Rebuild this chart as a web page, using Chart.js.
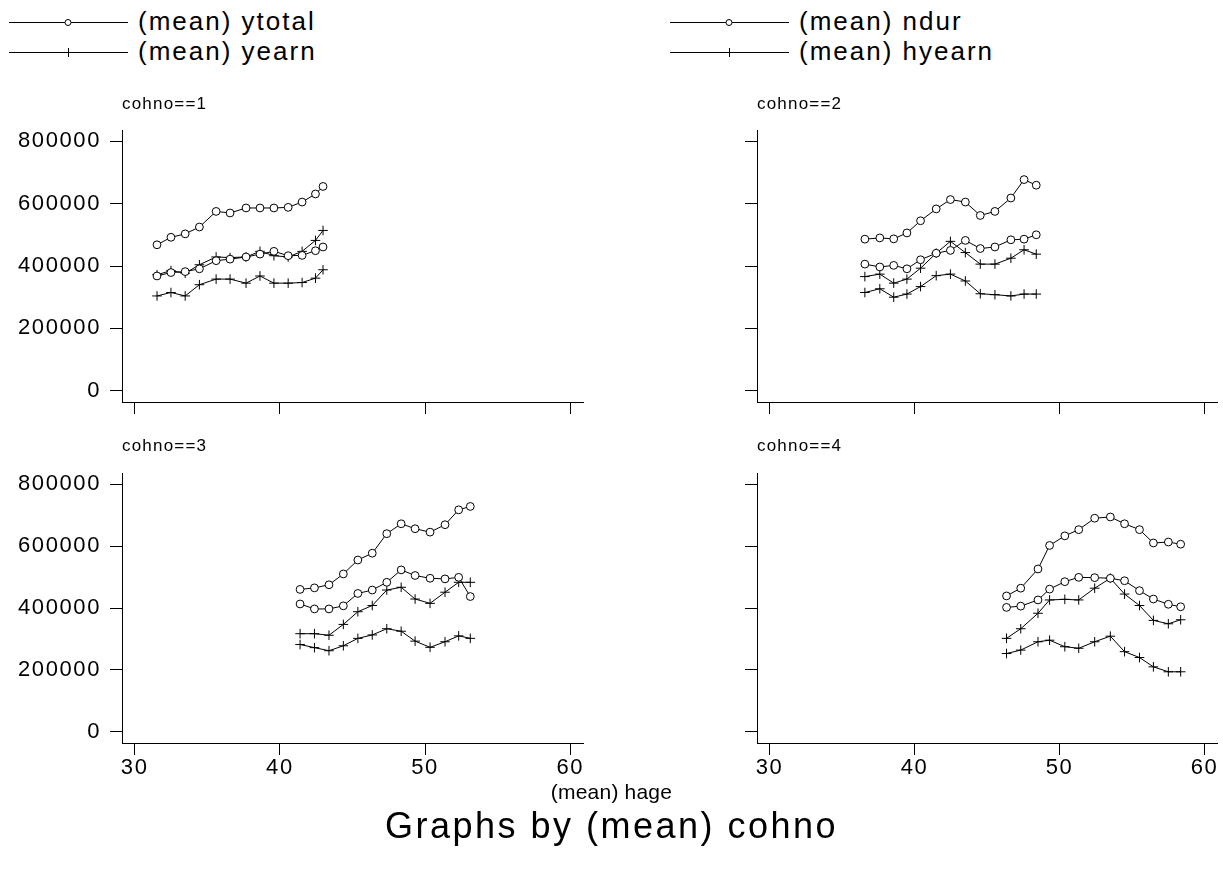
<!DOCTYPE html>
<html>
<head>
<meta charset="utf-8">
<script src="https://cdn.jsdelivr.net/npm/chart.js@4.4.1/dist/chart.umd.min.js"></script>
<style>
body { margin:0; background:#fff; width:1223px; height:882px; overflow:hidden; position:relative; font-family:"Liberation Sans", Arial, sans-serif; color:#000; }
canvas { position:absolute; }
.leg { position:absolute; font-size:26px; letter-spacing:2px; line-height:30px; white-space:nowrap; }
.foot { position:absolute; left:0; width:1223px; text-align:center; white-space:nowrap; }
</style>
</head>
<body>
<svg width="1223" height="70" style="position:absolute;left:0;top:0">
  <g stroke="#000" stroke-width="1" fill="#fff">
    <line x1="9" y1="22.5" x2="128" y2="22.5"/>
    <circle cx="68" cy="22.5" r="3"/>
    <line x1="9" y1="52.5" x2="128" y2="52.5"/>
    <line x1="68.5" y1="48" x2="68.5" y2="57"/>
    <line x1="670" y1="22.5" x2="789" y2="22.5"/>
    <circle cx="729" cy="22.5" r="3"/>
    <line x1="670" y1="52.5" x2="789" y2="52.5"/>
    <line x1="729.5" y1="48" x2="729.5" y2="57"/>
  </g>
</svg>
<div class="leg" style="left:138px;top:6px">(mean) ytotal</div>
<div class="leg" style="left:138px;top:36px">(mean) yearn</div>
<div class="leg" style="left:799px;top:6px">(mean) ndur</div>
<div class="leg" style="left:799px;top:36px">(mean) hyearn</div>

<canvas id="c1" width="600" height="340" style="left:0;top:90px"></canvas>
<canvas id="c2" width="588" height="340" style="left:635px;top:90px"></canvas>
<canvas id="c3" width="600" height="350" style="left:0;top:433px"></canvas>
<canvas id="c4" width="588" height="350" style="left:635px;top:433px"></canvas>

<div class="foot" style="top:780px;font-size:21px;line-height:24px;letter-spacing:0.2px">(mean) hage</div>
<div class="foot" style="top:806px;font-size:36px;line-height:40px;letter-spacing:2.5px">Graphs by (mean) cohno</div>

<script>
// valores: edad media por año, una lista por cohorte
const ages1 = [31.54, 32.50, 33.48, 34.46, 35.61, 36.57, 37.67, 38.63, 39.59, 40.57, 41.53, 42.45, 42.97];
const ytotal1 = [468000, 492000, 503000, 525000, 575000, 570000, 586000, 586000, 586000, 588000, 605000, 631000, 655000];
const ndur1 = [368000, 379000, 382000, 391000, 417000, 422000, 429000, 438000, 447000, 433000, 434000, 449000, 461000];
const yearn1 = [372000, 385000, 377000, 404000, 429000, 427000, 429000, 447000, 433000, 429000, 447000, 482000, 514000];
const hyearn1 = [304000, 315000, 304000, 340000, 358000, 358000, 345000, 368000, 345000, 345000, 347000, 361000, 388000];

const ages2 = [36.57, 37.60, 38.56, 39.47, 40.41, 41.49, 42.47, 43.50, 44.53, 45.54, 46.64, 47.55, 48.39];
const ytotal2 = [486000, 490000, 487000, 506000, 545000, 583000, 613000, 605000, 562000, 575000, 618000, 677000, 659000];
const ndur2 = [406000, 397000, 402000, 391000, 420000, 441000, 450000, 482000, 456000, 461000, 484000, 486000, 500000];
const yearn2 = [366000, 374000, 345000, 358000, 393000, 441000, 479000, 443000, 406000, 406000, 425000, 452000, 438000];
const hyearn2 = [315000, 327000, 300000, 310000, 334000, 369000, 374000, 352000, 311000, 308000, 304000, 310000, 310000];

const ages3 = [41.39, 42.38, 43.38, 44.37, 45.37, 46.36, 47.36, 48.35, 49.31, 50.34, 51.37, 52.31, 53.11];
const ytotal3 = [460000, 465000, 475000, 510000, 555000, 577000, 640000, 672000, 656000, 645000, 669000, 717000, 728000];
const ndur3 = [413000, 397000, 397000, 407000, 447000, 458000, 483000, 523000, 505000, 496000, 494000, 499000, 437000];
const yearn3 = [317000, 317000, 312000, 347000, 388000, 408000, 458000, 467000, 429000, 415000, 451000, 483000, 483000];
const hyearn3 = [282000, 272000, 262000, 278000, 302000, 313000, 333000, 325000, 293000, 273000, 291000, 310000, 302000];

const ages4 = [46.34, 47.32, 48.51, 49.31, 50.36, 51.32, 52.42, 53.50, 54.48, 55.51, 56.47, 57.50, 58.35];
const ytotal4 = [439000, 464000, 526000, 602000, 633000, 653000, 690000, 694000, 672000, 653000, 610000, 613000, 606000];
const ndur4 = [402000, 406000, 426000, 461000, 485000, 499000, 498000, 496000, 488000, 456000, 429000, 412000, 404000];
const yearn4 = [302000, 333000, 383000, 426000, 428000, 426000, 464000, 496000, 445000, 408000, 360000, 349000, 362000];
const hyearn4 = [253000, 264000, 291000, 296000, 275000, 270000, 291000, 309000, 259000, 240000, 210000, 194000, 194000];

const seriesNames = ['(mean) ytotal', '(mean) ndur', '(mean) yearn', '(mean) hyearn'];
const seriesMarkers = ['circle', 'circle', 'cross', 'cross'];
const xTicks = [30, 40, 50, 60];
const yTicks = [0, 200000, 400000, 600000, 800000];

const tickFont = { family: 'Liberation Sans', size: 22 };

// etiqueta "cohno==n" encima de cada panel y espaciado de letras
const panelLabel = {
    id: 'panelLabel',
    beforeDraw(chart) {
        chart.ctx.letterSpacing = '1.6px';
    },
    afterDraw(chart, args, opts) {
        const ctx = chart.ctx;
        ctx.save();
        ctx.letterSpacing = '1.2px';
        ctx.font = '17px "Liberation Sans"';
        ctx.fillStyle = '#000';
        ctx.textBaseline = 'middle';
        ctx.fillText(opts.text, chart.chartArea.left, opts.y);
        ctx.restore();
    }
};

const crearPanel = (id, titulo, ages, series, conX, conY, padRight, xHeight, labelY) => {
    const datasets = series.map((vals, k) => ({
        label: seriesNames[k],
        data: ages.map((a, i) => ({ x: a, y: vals[i] })),
        showLine: true,
        borderColor: '#000',
        borderWidth: 1,
        tension: 0,
        pointStyle: seriesMarkers[k],
        pointRadius: seriesMarkers[k] === 'circle' ? 3.9 : 4.8,
        pointBorderColor: '#000',
        pointBackgroundColor: '#fff',
        pointBorderWidth: 1
    }));

    new Chart(document.getElementById(id), {
        type: 'scatter',
        data: { datasets },
        plugins: [panelLabel],
        options: {
            responsive: false,
            animation: false,
            devicePixelRatio: 1,
            layout: { padding: { top: 40, right: padRight, left: 0, bottom: 0 } },
            plugins: {
                legend: { display: false },
                tooltip: { enabled: false },
                panelLabel: { text: titulo, y: labelY }
            },
            scales: {
                x: {
                    type: 'linear',
                    min: 29.13,
                    max: 60.87,
                    afterBuildTicks: (s) => { s.ticks = xTicks.map(v => ({ value: v })); },
                    afterFit: (s) => { s.height = xHeight; },
                    grid: { drawOnChartArea: false, drawTicks: true, tickLength: 12, color: '#000' },
                    border: { display: true, color: '#000', width: 1 },
                    ticks: { display: conX, font: tickFont, color: '#000', padding: 0, maxRotation: 0 }
                },
                y: {
                    type: 'linear',
                    min: -36000,
                    max: 836000,
                    afterBuildTicks: (s) => { s.ticks = yTicks.map(v => ({ value: v })); },
                    afterFit: (s) => { s.width = 122; },
                    grid: { drawOnChartArea: false, drawTicks: true, tickLength: 12, color: '#000' },
                    border: { display: true, color: '#000', width: 1 },
                    ticks: { display: conY, font: tickFont, color: '#000', padding: 9, callback: (v) => String(v) }
                }
            }
        }
    });
};

crearPanel('c1', 'cohno==1', ages1, [ytotal1, ndur1, yearn1, hyearn1], false, true, 17, 28, 14);
crearPanel('c2', 'cohno==2', ages2, [ytotal2, ndur2, yearn2, hyearn2], false, false, 5, 28, 14);
crearPanel('c3', 'cohno==3', ages3, [ytotal3, ndur3, yearn3, hyearn3], true, true, 17, 40, 13);
crearPanel('c4', 'cohno==4', ages4, [ytotal4, ndur4, yearn4, hyearn4], true, false, 5, 40, 13);
</script>
</body>
</html>
